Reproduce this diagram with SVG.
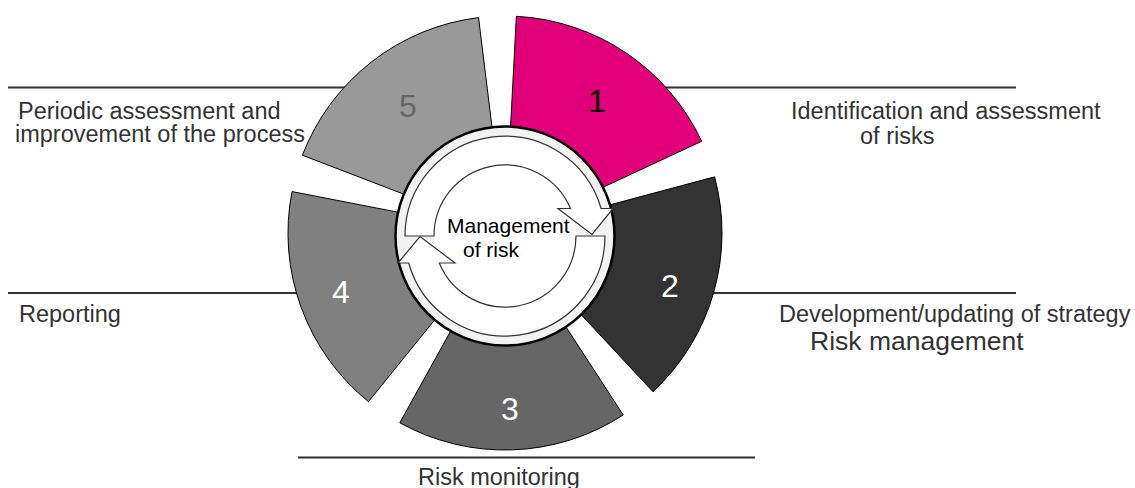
<svg xmlns="http://www.w3.org/2000/svg" width="1135" height="488" viewBox="0 0 1135 488">
<style>
.rule{stroke:#333;stroke-width:2;fill:none}
.lbl{font-family:"Liberation Sans",Arial,sans-serif;font-size:23.5px;fill:#333}
.seg{stroke:#000;stroke-width:1}
.num{font-family:"Liberation Sans",Arial,sans-serif;font-size:32px;text-anchor:middle}
.arrow{fill:#fff;stroke:#333;stroke-width:1.2;stroke-linejoin:miter}
.ctr{font-family:"Liberation Sans",Arial,sans-serif;font-size:21px;fill:#000}
</style>
<rect width="1135" height="488" fill="#fff"/>
<g id="connectors">
<line class="rule" x1="8" y1="87.5" x2="360" y2="87.5"/>
<line class="rule" x1="650" y1="87.5" x2="1016" y2="87.5"/>
<line class="rule" x1="8" y1="293" x2="298" y2="293"/>
<line class="rule" x1="712" y1="293" x2="1016" y2="293"/>
<line class="rule" x1="298" y1="457.5" x2="755" y2="457.5"/>
</g>
<g id="labels">
<text class="lbl" x="18" y="119">Periodic assessment and</text>
<text class="lbl" x="15" y="142">improvement of the process</text>
<text class="lbl" x="791" y="119">Identification and assessment</text>
<text class="lbl" x="860" y="144">of risks</text>
<text class="lbl" x="19" y="322">Reporting</text>
<text class="lbl" x="779" y="322">Development/updating of strategy</text>
<text class="lbl" x="810" y="350" style="font-size:26.5px">Risk management</text>
<text class="lbl" x="418" y="485">Risk monitoring</text>
</g>
<g id="seg1">
<path class="seg" fill="#E2007A" d="M516.36,16.3 A217,217 0 0 1 701.67,141.29 L595.63,190.74 A100,100 0 0 0 510.23,133.14 Z"/>
<text class="num" x="597" y="112" fill="#000">1</text>
</g>
<g id="seg2">
<path class="seg" fill="#333333" d="M714.61,176.84 A217,217 0 0 1 652.99,391.7 L573.2,306.14 A100,100 0 0 0 601.59,207.12 Z"/>
<text class="num" x="670" y="297" fill="#fff">2</text>
</g>
<g id="seg3">
<path class="seg" fill="#666666" d="M623.19,414.99 A217,217 0 0 1 399.8,422.79 L456.52,320.46 A100,100 0 0 0 559.46,316.87 Z"/>
<text class="num" x="510" y="420" fill="#fff">3</text>
</g>
<g id="seg4">
<path class="seg" fill="#808080" d="M368.44,401.64 A217,217 0 0 1 291.99,191.59 L406.84,213.92 A100,100 0 0 0 442.07,310.72 Z"/>
<text class="num" x="341" y="303" fill="#fff">4</text>
</g>
<g id="seg5">
<path class="seg" fill="#999999" d="M302.41,155.23 A217,217 0 0 1 478.55,17.62 L492.81,133.75 A100,100 0 0 0 411.64,197.16 Z"/>
<text class="num" x="408" y="117" fill="#666">5</text>
</g>
<g id="center">
<circle cx="505" cy="236" r="109.5" fill="#F2F2F2" stroke="#000" stroke-width="2.5"/>
<circle cx="505" cy="236" r="71" fill="#fff"/>
<path class="arrow" d="M405,236 A100,100 0 0 1 601.1,208.5 L613,208.5 L592,234.5 L558,208.5 L570.5,208.5 A71,71 0 0 0 434,236 Z"/>
<path class="arrow" d="M605,236 A100,100 0 0 1 408.7,263 L398,263 L420,236.5 L455,263 L439.3,263 A71,71 0 0 0 576,236 Z"/>
<text class="ctr" x="447" y="233">Management</text>
<text class="ctr" x="463" y="257">of risk</text>
</g>
</svg>
